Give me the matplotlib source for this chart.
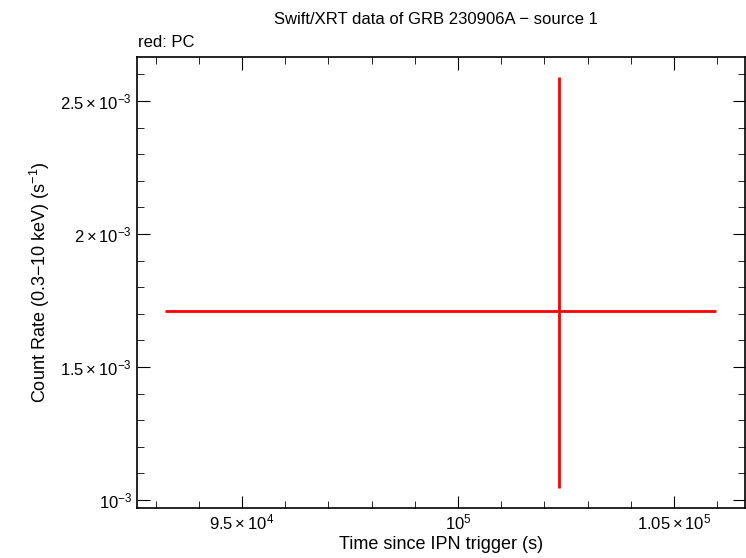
import matplotlib as mpl
mpl.use("Agg")
import matplotlib.pyplot as plt
from matplotlib.ticker import MultipleLocator

mpl.rcParams["font.family"] = ["Liberation Sans", "DejaVu Sans"]
mpl.rcParams["mathtext.fontset"] = "custom"
mpl.rcParams["mathtext.rm"] = "Liberation Sans"
mpl.rcParams["mathtext.it"] = "Liberation Sans"

# data
t = [102340.0]
t_lo = [93220.0]
t_hi = [105970.0]
rate = [1.7105e-3]
rate_lo = [1.045e-3]
rate_hi = [2.59e-3]

xticks = [9.5e4, 1e5, 1.05e5]
xlabels = [r"$9.5\times10^{4}$", r"$10^{5}$", r"$1.05\times10^{5}$"]
yticks = [1e-3, 1.5e-3, 2e-3, 2.5e-3]
ylabels = [r"$10^{-3}$", r"$1.5\times10^{-3}$", r"$2\times10^{-3}$", r"$2.5\times10^{-3}$"]

fig = plt.figure(figsize=(7.46, 5.58), dpi=100)
ax = fig.add_axes([0.1836, 0.0896, 0.815, 0.8082])

xerr = [[t[0] - t_lo[0]], [t_hi[0] - t[0]]]
yerr = [[rate[0] - rate_lo[0]], [rate_hi[0] - rate[0]]]
ax.errorbar(t, rate, xerr=xerr, yerr=yerr, fmt="none", ecolor="red", elinewidth=2, capsize=0)

ax.set_xlim(92570, 106640)
ax.set_ylim(0.97e-3, 2.665e-3)
ax.set_xticks(xticks)
ax.set_xticklabels(xlabels)
ax.set_yticks(yticks)
ax.set_yticklabels(ylabels)
ax.xaxis.set_minor_locator(MultipleLocator(1000))
ax.yaxis.set_minor_locator(MultipleLocator(1e-4))
ax.tick_params(which="both", direction="in", top=True, right=True, labelsize=12)
ax.tick_params(which="major", length=9)
ax.tick_params(which="minor", length=5)
for s in ax.spines.values():
    s.set_linewidth(1.2)

ax.set_xlabel("Time since IPN trigger (s)", fontsize=13, labelpad=2)
ax.set_ylabel(r"Count Rate (0.3$-$10 keV) (s$^{-1}$)", fontsize=13)
ax.yaxis.set_label_coords(-0.14, 0.5)
fig.text(0.585, 0.965, "Swift/XRT data of GRB 230906A \u2212 source 1", ha="center", va="center", fontsize=12)
fig.text(0.185, 0.923, "red: PC", ha="left", va="center", fontsize=12)

fig.savefig("out.png", dpi=100)
